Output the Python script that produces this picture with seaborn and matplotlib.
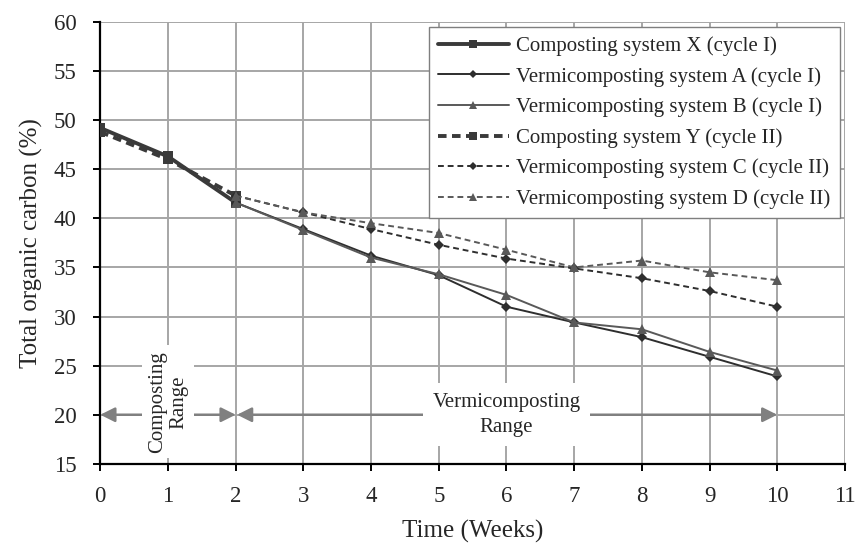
import numpy as np
import pandas as pd
import matplotlib
matplotlib.use("Agg")
import matplotlib.pyplot as plt
import seaborn as sns

# Data
weeks_compost = [0, 1, 2]
weeks_vermi = [2, 3, 4, 5, 6, 7, 8, 9, 10]

compost_x = [49.2, 46.3, 41.6]
compost_y = [48.8, 46.0, 42.3]
vermi_a = [41.6, 38.9, 36.2, 34.2, 31.0, 29.4, 27.9, 25.9, 23.9]
vermi_b = [41.6, 38.8, 36.0, 34.3, 32.2, 29.4, 28.7, 26.4, 24.5]
vermi_c = [42.3, 40.6, 38.9, 37.3, 35.9, 34.9, 33.9, 32.6, 31.0]
vermi_d = [42.3, 40.6, 39.5, 38.5, 36.8, 35.0, 35.7, 34.5, 33.7]

labels = ["Composting system X (cycle I)",
          "Vermicomposting system A (cycle I)",
          "Vermicomposting system B (cycle I)",
          "Composting system Y (cycle II)",
          "Vermicomposting system C (cycle II)",
          "Vermicomposting system D (cycle II)"]

sns.set_style("white")
plt.rcParams['font.family'] = ['Liberation Serif', 'DejaVu Serif']

fig, ax = plt.subplots(figsize=(8.57, 5.47), dpi=100)
fig.subplots_adjust(left=0.117, right=0.986, top=0.960, bottom=0.152)

series = [
    (weeks_compost, compost_x, dict(color='#3a3a3a', lw=2.8, ls='-', marker='s', ms=7.5)),
    (weeks_vermi, vermi_a, dict(color='#2e2e2e', lw=1.4, ls='-', marker='D', ms=5.5)),
    (weeks_vermi, vermi_b, dict(color='#595959', lw=1.4, ls='-', marker='^', ms=7)),
    (weeks_compost, compost_y, dict(color='#3a3a3a', lw=2.8, ls=(0, (2.2, 1.4)), marker='s', ms=7.5)),
    (weeks_vermi, vermi_c, dict(color='#2e2e2e', lw=1.4, ls=(0, (3, 2)), marker='D', ms=5.5)),
    (weeks_vermi, vermi_d, dict(color='#595959', lw=1.4, ls=(0, (3, 2)), marker='^', ms=7)),
]

for (xs, ys, st), lab in zip(series, labels):
    df = pd.DataFrame({'week': xs, 'toc': ys})
    sns.lineplot(data=df, x='week', y='toc', ax=ax, label=lab, color=st['color'],
                 linewidth=st['lw'], linestyle=st['ls'], marker=st['marker'],
                 markersize=st['ms'], markeredgewidth=0, zorder=4)

ax.set_xlim(0, 11)
ax.set_ylim(15, 60)
ax.set_xticks(range(0, 12))
ax.set_yticks(range(15, 61, 5))
ax.grid(True, color='#a6a6a6', linewidth=1.4)
ax.set_axisbelow(True)
for s in ['top', 'right']:
    ax.spines[s].set_visible(False)
for s in ['left', 'bottom']:
    ax.spines[s].set_color('black')
    ax.spines[s].set_linewidth(1.6)
ax.tick_params(axis='both', direction='out', length=5, width=1.4, color='black',
               labelsize=16.5, bottom=True, left=True)
ax.tick_params(axis='y', pad=12)
ax.tick_params(axis='x', pad=11)
ax.set_xlabel('Time (Weeks)', fontsize=18, labelpad=9)
ax.set_ylabel('Total organic carbon (%)', fontsize=18, labelpad=8)

# range arrows
arrow_kw = dict(arrowstyle='<|-|>', color='#808080', lw=1.8, mutation_scale=22,
                shrinkA=0, shrinkB=0)
ax.annotate('', xy=(0, 20), xytext=(2, 20), arrowprops=arrow_kw, zorder=3)
ax.annotate('', xy=(2.02, 20), xytext=(10, 20), arrowprops=arrow_kw, zorder=3)

ax.text(1, 21.3, 'Composting\nRange', rotation=90, ha='center', va='center',
        fontsize=15, linespacing=1.15, zorder=3,
        bbox=dict(facecolor='white', edgecolor='none', pad=4))
ax.text(6, 20.0, 'Vermicomposting\nRange', ha='center', va='center',
        fontsize=15, linespacing=1.4, zorder=3,
        bbox=dict(facecolor='white', edgecolor='none', pad=7))

leg = ax.legend(loc='upper right', fontsize=15, frameon=True, fancybox=False,
                edgecolor='#7f7f7f', framealpha=1, handlelength=3.4,
                borderaxespad=0.25, labelspacing=0.52, handletextpad=0.35,
                borderpad=0.45, markerscale=0.75)
leg.get_frame().set_linewidth(1.0)
leg.set_zorder(10)

fig.savefig('out.png', dpi=100)
